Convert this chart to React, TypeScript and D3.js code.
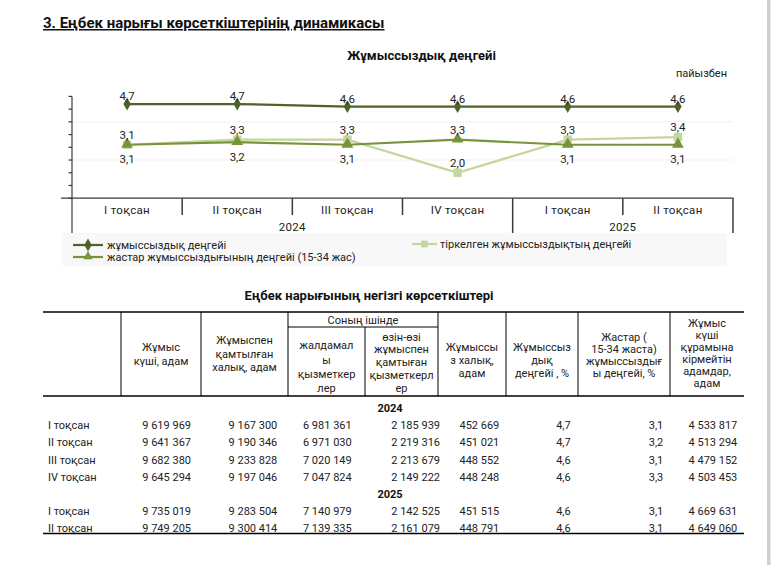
import React from "react";
import * as d3 from "d3";

// ---------- data ----------
const quarters = ["I тоқсан", "II тоқсан", "III тоқсан", "IV тоқсан", "I тоқсан", "II тоқсан"];
const years = ["2024", "2025"];
const quartersPerYear = [4, 2];

const unemploymentRate = [4.7, 4.7, 4.6, 4.6, 4.6, 4.6];
const registeredRate = [3.1, 3.3, 3.3, 2.0, 3.3, 3.4];
const youthRate = [3.1, 3.2, 3.1, 3.3, 3.1, 3.1];

const labourForce = [9619969, 9641367, 9682380, 9645294, 9735019, 9749205];
const employed = [9167300, 9190346, 9233828, 9197046, 9283504, 9300414];
const hired = [6981361, 6971030, 7020149, 7047824, 7140979, 7139335];
const selfEmployed = [2185939, 2219316, 2213679, 2149222, 2142525, 2161079];
const unemployed = [452669, 451021, 448552, 448248, 451515, 448791];
const outsideLabour = [4533817, 4513294, 4479152, 4503453, 4669631, 4649060];

const legendLabels = [
  "жұмыссыздық деңгейі",
  "тіркелген жұмыссыздықтың деңгейі",
  "жастар жұмыссыздығының деңгейі (15-34 жас)",
];

const headerTexts = [
  ["Жұмыс", "күші, адам"],
  ["Жұмыспен", "қамтылған", "халық, адам"],
  ["жалдамал", "ы", "қызметкер", "лер"],
  ["өзін-өзі", "жұмыспен", "қамтыған", "қызметкерл", "ер"],
  ["Жұмыссы", "з халық,", "адам"],
  ["Жұмыссыз", "дық", "деңгейі , %"],
  ["Жастар (", "15-34 жаста)", "жұмыссыздығ", "ы деңгейі, %"],
  ["Жұмыс", "күші", "құрамына", "кірмейтін", "адамдар,", "адам"],
];

// ---------- layout ----------
const FONT = "Roboto, 'Noto Sans', sans-serif";
const C_DARK = "#4f6228";
const C_LIGHT = "#c3d69b";
const C_MID = "#77933c";
const AXIS = "#3a3a3a";

const headerDividers = [43, 121, 201, 288, 365, 438, 506, 578, 670, 744];
const subDivider = 365;
const headerCenters = [354, 354, 367, 362.5, 360, 360, 355, 353];
const headerLineH = [14, 13.5, 14.3, 12.9, 13.3, 13.3, 12.2, 11.9];
const valueRightX = [191, 277.3, 351.7, 440, 499.3, 570.7, 663.3, 737.3];

const locale = d3.formatLocale({ decimal: ",", thousands: " ", grouping: [3], currency: ["", ""] });
const fmtInt = locale.format(",d");
const fmtPct = locale.format(".1f");

export default function App() {
  const x = d3.scaleBand<number>().domain(d3.range(quarters.length)).range([72, 733]).padding(0);
  const y = d3.scaleLinear().domain([1, 5]).range([198.2, 96.4]);
  const cx = (i: number) => (x(i) as number) + x.bandwidth() / 2;
  const ticks = d3.range(1, 5.01, 0.5);

  const line = d3
    .line<number>()
    .x((_, i) => cx(i))
    .y((d) => y(d));

  const diamond = d3.symbol().type(d3.symbolDiamond).size(48)();
  const square = d3.symbol().type(d3.symbolSquare).size(70)();
  const triangle = d3.symbol().type(d3.symbolTriangle).size(60)();

  let acc = 0;
  const yearGroups = years.map((yr, k) => {
    const start = acc;
    acc += quartersPerYear[k];
    return { yr, start, end: acc };
  });

  const youthLabelAbove = youthRate.map((v, i) => v > registeredRate[i]);

  const rowItems: { kind: "year" | "row"; idx: number }[] = [];
  let q = 0;
  years.forEach((_, k) => {
    rowItems.push({ kind: "year", idx: k });
    for (let j = 0; j < quartersPerYear[k]; j++) rowItems.push({ kind: "row", idx: q++ });
  });
  const rowY = d3.scaleLinear().domain([0, rowItems.length - 1]).range([408.5, 528]);

  const columns = [
    labourForce.map(fmtInt),
    employed.map(fmtInt),
    hired.map(fmtInt),
    selfEmployed.map(fmtInt),
    unemployed.map(fmtInt),
    unemploymentRate.map(fmtPct),
    youthRate.map(fmtPct),
    outsideLabour.map(fmtInt),
  ];

  return (
    <svg
      width={778}
      height={565}
      style={{ position: "absolute", left: 0, top: 0, display: "block", background: "#fff" }}
      fontFamily={FONT}
    >
      <rect x={0} y={0} width={778} height={565} fill="#fff" />
      <rect x={767} y={0} width={3.5} height={565} fill="#cfcfcf" />

      <text x={43} y={28} fontSize={15} fontWeight="bold" fill="#111" textDecoration="underline">
        3. Еңбек нарығы көрсеткіштерінің динамикасы
      </text>

      <text x={421.5} y={60} fontSize={13} fontWeight="bold" fill="#111" textAnchor="middle">
        Жұмыссыздық деңгейі
      </text>
      <text x={727} y={77} fontSize={11} fill="#222" textAnchor="end">
        пайызбен
      </text>

      {[4, 2.5].map((v) => (
        <line key={v} x1={72} x2={733} y1={y(v)} y2={y(v)} stroke="#f1f1f1" strokeWidth={1} />
      ))}

      <line x1={72} x2={72} y1={y(5)} y2={233} stroke={AXIS} strokeWidth={1.2} />
      {ticks.map((t) => (
        <line key={t} x1={68.5} x2={72} y1={y(t)} y2={y(t)} stroke={AXIS} strokeWidth={1.2} />
      ))}
      <line x1={61} x2={733.5} y1={y(1)} y2={y(1)} stroke={AXIS} strokeWidth={1.2} />
      {d3.range(1, quarters.length).map((i) => {
        const isYear = yearGroups.some((g) => g.start === i);
        return (
          <line
            key={i}
            x1={x(i) as number}
            x2={x(i) as number}
            y1={y(1)}
            y2={isYear ? 233 : 215}
            stroke={AXIS}
            strokeWidth={1.5}
          />
        );
      })}
      <line x1={733} x2={733} y1={y(1)} y2={233} stroke={AXIS} strokeWidth={1.5} />
      {quarters.map((qt, i) => (
        <text key={i} x={cx(i)} y={213.5} fontSize={11.5} textAnchor="middle" fill="#222" letterSpacing={0.3}>
          {qt}
        </text>
      ))}
      {yearGroups.map((g) => (
        <text
          key={g.yr}
          x={((x(g.start) as number) + ((x(g.end - 1) as number) + x.bandwidth())) / 2}
          y={230.5}
          fontSize={11.5}
          textAnchor="middle"
          fill="#222"
          letterSpacing={0.3}
        >
          {g.yr}
        </text>
      ))}

      <path d={line(unemploymentRate) || ""} fill="none" stroke={C_DARK} strokeWidth={2.2} />
      <path d={line(registeredRate) || ""} fill="none" stroke={C_LIGHT} strokeWidth={2.2} />
      <path d={line(youthRate) || ""} fill="none" stroke={C_MID} strokeWidth={2.2} />

      {unemploymentRate.map((v, i) => (
        <path key={"d" + i} d={diamond || ""} transform={`translate(${cx(i)},${y(v)})`} fill={C_DARK} />
      ))}
      {registeredRate.map((v, i) => (
        <path key={"s" + i} d={square || ""} transform={`translate(${cx(i)},${y(v)})`} fill={C_LIGHT} />
      ))}
      {youthRate.map((v, i) => (
        <path key={"t" + i} d={triangle || ""} transform={`translate(${cx(i)},${y(v) - 0.5})`} fill={C_MID} />
      ))}

      {unemploymentRate.map((v, i) => (
        <text key={"ld" + i} x={cx(i)} y={y(v) - 4} fontSize={11.5} textAnchor="middle" fill="#222">
          {fmtPct(v)}
        </text>
      ))}
      {registeredRate.map((v, i) => (
        <text key={"ls" + i} x={cx(i)} y={y(v) - 6} fontSize={11.5} textAnchor="middle" fill="#222">
          {fmtPct(v)}
        </text>
      ))}
      {youthRate.map((v, i) => (
        <text
          key={"lt" + i}
          x={cx(i)}
          y={youthLabelAbove[i] ? y(v) - 6 : y(v) + 18.5}
          fontSize={11.5}
          textAnchor="middle"
          fill="#222"
        >
          {fmtPct(v)}
        </text>
      ))}

      <rect x={62} y={233} width={665} height={33} fill="#f8f8f8" />
      <g>
        <line x1={73} x2={103} y1={245} y2={245} stroke={C_DARK} strokeWidth={2.2} />
        <path d={diamond || ""} transform="translate(88,245)" fill={C_DARK} />
        <text x={107} y={245} dy="0.35em" fontSize={11} fill="#222">
          {legendLabels[0]}
        </text>
        <line x1={412} x2={437} y1={244} y2={244} stroke={C_LIGHT} strokeWidth={2.2} />
        <path d={square || ""} transform="translate(424.5,244) scale(0.8)" fill={C_LIGHT} />
        <text x={440} y={244} dy="0.35em" fontSize={11} fill="#222">
          {legendLabels[1]}
        </text>
        <line x1={73} x2={103} y1={257} y2={257} stroke={C_MID} strokeWidth={2.2} />
        <path d={triangle || ""} transform="translate(88,256.5) scale(0.8)" fill={C_MID} />
        <text x={107} y={257} dy="0.35em" fontSize={11} fill="#222">
          {legendLabels[2]}
        </text>
      </g>

      <text x={369} y={295} dy="0.35em" fontSize={13} fontWeight="bold" textAnchor="middle" fill="#111">
        Еңбек нарығының негізгі көрсеткіштері
      </text>

      <line x1={43} x2={744} y1={312} y2={312} stroke="#000" strokeWidth={1.3} />
      <line x1={43} x2={744} y1={396} y2={396} stroke="#000" strokeWidth={1.3} />
      {headerDividers.slice(1, -1).map((xx, i) => (
        <line
          key={i}
          x1={xx}
          x2={xx}
          y1={xx === subDivider ? 327 : 312}
          y2={396}
          stroke="#000"
          strokeWidth={1}
        />
      ))}
      <line x1={288} x2={438} y1={327} y2={327} stroke="#000" strokeWidth={1} />
      <text x={363} y={320} dy="0.35em" fontSize={11} textAnchor="middle" fill="#222">
        Соның ішінде
      </text>
      {headerTexts.map((lines, c) => {
        const xc = (headerDividers[c + 1] + headerDividers[c + 2]) / 2;
        const lh = headerLineH[c];
        const top = headerCenters[c] - ((lines.length - 1) * lh) / 2;
        return (
          <text key={c} fontSize={11} textAnchor="middle" fill="#222">
            {lines.map((ln, k) => (
              <tspan key={k} x={xc} y={top + k * lh} dy="0.35em">
                {ln}
              </tspan>
            ))}
          </text>
        );
      })}

      {rowItems.map((it, r) =>
        it.kind === "year" ? (
          <text
            key={"y" + r}
            x={390}
            y={rowY(r)}
            dy="0.35em"
            fontSize={11}
            fontWeight="bold"
            textAnchor="middle"
            fill="#111"
          >
            {years[it.idx]}
          </text>
        ) : (
          <g key={"r" + r}>
            <text x={48} y={rowY(r)} dy="0.35em" fontSize={11} fill="#222">
              {quarters[it.idx]}
            </text>
            {columns.map((col, c) => (
              <text key={c} x={valueRightX[c]} y={rowY(r)} dy="0.35em" fontSize={11} textAnchor="end" fill="#222">
                {col[it.idx]}
              </text>
            ))}
          </g>
        )
      )}
      <line x1={43} x2={744} y1={533.5} y2={533.5} stroke="#000" strokeWidth={1.3} />
    </svg>
  );
}
